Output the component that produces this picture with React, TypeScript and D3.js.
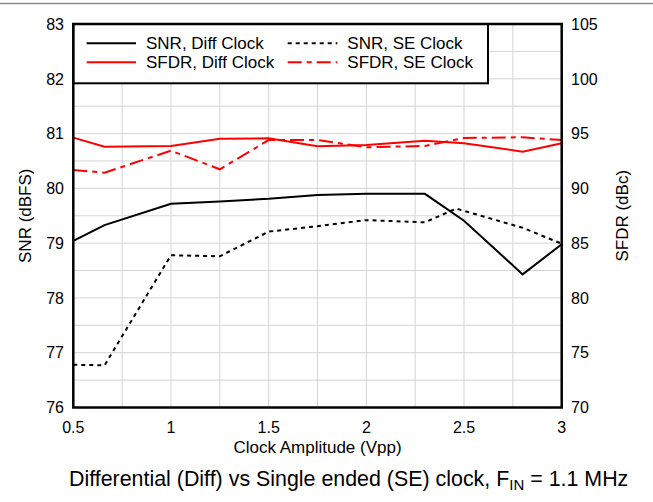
import React from "react";
import * as d3 from "d3";

const xValues = [0.5, 0.66, 1.0, 1.25, 1.5, 1.75, 2.0, 2.3, 2.5, 2.8, 3.0];
const snrDiff = [79.04, 79.33, 79.72, 79.76, 79.81, 79.88, 79.9, 79.9, 79.41, 78.43, 78.98];
const snrSEx = [0.5, 0.66, 1.0, 1.25, 1.5, 1.75, 2.0, 2.3, 2.46, 2.8, 3.0];
const snrSE = [76.78, 76.77, 78.78, 78.76, 79.21, 79.31, 79.42, 79.38, 79.63, 79.28, 78.99];
const sfdrDiff = [94.63, 93.8, 93.87, 94.53, 94.57, 93.84, 93.96, 94.35, 94.11, 93.35, 94.11];
const sfdrSE = [91.68, 91.43, 93.44, 91.74, 94.41, 94.41, 93.75, 93.87, 94.6, 94.66, 94.41];

const xTicks = [0.5, 1, 1.5, 2, 2.5, 3];
const xTickLabels = ["0.5", "1", "1.5", "2", "2.5", "3"];
const snrTicks = [76, 77, 78, 79, 80, 81, 82, 83];
const sfdrTicks = [70, 75, 80, 85, 90, 95, 100, 105];

const legendItems = [
  { label: "SNR, Diff Clock", color: "#000", dash: "" },
  { label: "SNR, SE Clock", color: "#000", dash: "4,4" },
  { label: "SFDR, Diff Clock", color: "#ff0000", dash: "" },
  { label: "SFDR, SE Clock", color: "#ff0000", dash: "14,5,5,5" },
];

const FONT = "'Liberation Sans', Arial, Helvetica, sans-serif";

export default function App() {
  const W = 653;
  const H = 502;
  const left = 73.3;
  const right = 561.7;
  const top = 24;
  const bottom = 407.5;

  const x = d3.scaleLinear().domain([0.5, 3]).range([left, right]);
  const ySNR = d3.scaleLinear().domain([76, 83]).range([bottom, top]);
  const ySFDR = d3.scaleLinear().domain([70, 105]).range([bottom, top]);

  const xGrid = d3.range(0.5, 3.0001, 0.25);
  const yGrid = d3.range(76, 83.0001, 0.5);

  const lineSNR = d3
    .line<number>()
    .x((_, i) => x(xValues[i]))
    .y((d) => ySNR(d));
  const lineSNRSE = d3
    .line<number>()
    .x((_, i) => x(snrSEx[i]))
    .y((d) => ySNR(d));
  const lineSFDR = d3
    .line<number>()
    .x((_, i) => x(xValues[i]))
    .y((d) => ySFDR(d));

  const series = [
    { d: lineSNR(snrDiff), color: "#000", dash: "" },
    { d: lineSNRSE(snrSE), color: "#000", dash: "4,4" },
    { d: lineSFDR(sfdrDiff), color: "#ff0000", dash: "" },
    { d: lineSFDR(sfdrSE), color: "#ff0000", dash: "14,5,5,5" },
  ];

  const legX0 = left;
  const legX1 = 488;
  const legY0 = top;
  const legY1 = 83.3;
  const legRows = [43.3, 62.3];
  const legCols = [
    { lx0: 86.7, lx1: 136, tx: 146 },
    { lx0: 287.7, lx1: 337.3, tx: 347.3 },
  ];

  return (
    <svg
      width={W}
      height={H}
      style={{ position: "absolute", left: 0, top: 0, background: "#fff" }}
      fontFamily={FONT}
    >
      <rect x={0} y={0} width={W} height={H} fill="#fff" />
      <line x1={0} x2={W} y1={3.5} y2={3.5} stroke="#8a8a8a" strokeWidth={1.5} />

      {/* grid */}
      {xGrid.map((v, i) => (
        <line key={"gx" + i} x1={x(v)} x2={x(v)} y1={top} y2={bottom} stroke="#d4d4d4" strokeWidth={1} />
      ))}
      {yGrid.map((v, i) => (
        <line key={"gy" + i} x1={left} x2={right} y1={ySNR(v)} y2={ySNR(v)} stroke="#d4d4d4" strokeWidth={1} />
      ))}

      {/* series */}
      {series.map((s, i) => (
        <path
          key={"s" + i}
          d={s.d || ""}
          fill="none"
          stroke={s.color}
          strokeWidth={2}
          strokeDasharray={s.dash || undefined}
          strokeLinejoin="miter"
        />
      ))}

      {/* legend */}
      <rect
        x={legX0}
        y={legY0}
        width={legX1 - legX0}
        height={legY1 - legY0}
        fill="#fff"
        stroke="#000"
        strokeWidth={2}
      />
      {legendItems.map((it, i) => {
        const row = Math.floor(i / 2);
        const col = i % 2;
        const c = legCols[col];
        const yy = legRows[row];
        return (
          <g key={"lg" + i}>
            <line
              x1={c.lx0}
              x2={c.lx1}
              y1={yy}
              y2={yy}
              stroke={it.color}
              strokeWidth={2}
              strokeDasharray={it.dash || undefined}
            />
            <text x={c.tx} y={yy} dy="0.36em" fontSize={17} fill="#000">
              {it.label}
            </text>
          </g>
        );
      })}

      {/* frame */}
      <rect
        x={left}
        y={top}
        width={right - left}
        height={bottom - top}
        fill="none"
        stroke="#000"
        strokeWidth={2.5}
      />

      {/* left ticks */}
      {snrTicks.map((v) => (
        <text key={"l" + v} x={64} y={ySNR(v)} dy="0.36em" textAnchor="end" fontSize={16}>
          {v}
        </text>
      ))}
      {/* right ticks */}
      {sfdrTicks.map((v) => (
        <text key={"r" + v} x={571} y={ySFDR(v)} dy="0.36em" textAnchor="start" fontSize={16}>
          {v}
        </text>
      ))}
      {/* x ticks */}
      {xTicks.map((v, i) => (
        <text key={"x" + v} x={x(v)} y={433} textAnchor="middle" fontSize={16}>
          {xTickLabels[i]}
        </text>
      ))}

      {/* axis titles */}
      <text
        transform={`translate(31,${(top + bottom) / 2}) rotate(-90)`}
        textAnchor="middle"
        fontSize={17}
      >
        SNR (dBFS)
      </text>
      <text
        transform={`translate(628,${(top + bottom) / 2}) rotate(-90)`}
        textAnchor="middle"
        fontSize={17}
      >
        SFDR (dBc)
      </text>
      <text x={(left + right) / 2} y={453} textAnchor="middle" fontSize={17}>
        Clock Amplitude (Vpp)
      </text>

      <text x={69} y={486} fontSize={21.4} textAnchor="start">
        Differential (Diff) vs Single ended (SE) clock, F
        <tspan fontSize={15} dy={4}>IN</tspan>
        <tspan dy={-4}> = 1.1 MHz</tspan>
      </text>
    </svg>
  );
}
